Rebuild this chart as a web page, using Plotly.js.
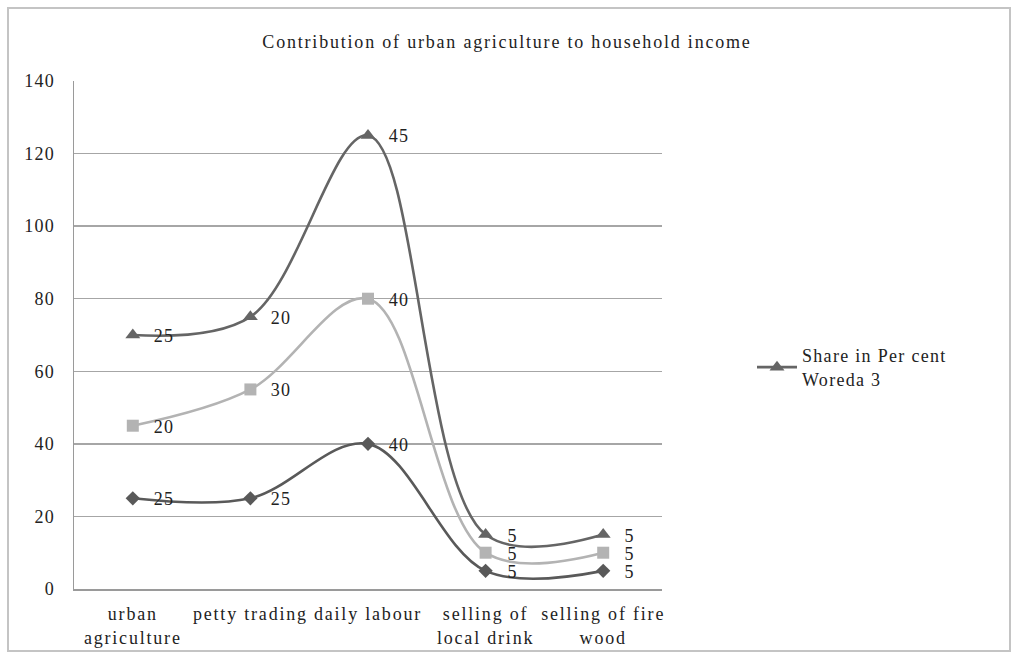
<!DOCTYPE html>
<html>
<head>
<meta charset="utf-8">
<script src="https://cdn.plot.ly/plotly-3.0.1.min.js"></script>
<style>
  html, body { margin: 0; padding: 0; background: #fff; }
  #chart { width: 1014px; height: 658px; }
  /* wide-set serif lettering */
  #chart .gtitle { letter-spacing: 1.8px; }
  #chart .xtick text { letter-spacing: 1.8px; }
  #chart .ytick text { letter-spacing: 1.2px; }
  #chart .legendtext { letter-spacing: 1.3px; }
  #chart .legend .scrollbox { clip-path: none !important; }
  #chart .annotation-text { letter-spacing: 1.2px; }
</style>
</head>
<body>
<div id="chart"></div>
<script>
// Income sources (x categories)
const categories = [
  "urban<br>agriculture",
  "petty trading",
  "daily labour",
  "selling of<br>local drink",
  "selling of fire<br>wood"
];

// Share of each series per income source (stacked on the chart)
const seriesDiamond = [25, 25, 40, 5, 5];
const seriesSquare = [20, 30, 40, 5, 5];
const seriesTriangle = [25, 20, 45, 5, 5];

const legendLabel = "Share in Per cent<br>Woreda 3";
const yTicks = [0, 20, 40, 60, 80, 100, 120, 140];

// Running totals for the stacked lines
function addArrays(a, b) { return a.map((v, i) => v + b[i]); }
const stackDiamond = seriesDiamond.slice();
const stackSquare = addArrays(stackDiamond, seriesSquare);
const stackTriangle = addArrays(stackSquare, seriesTriangle);

const serif = "Liberation Serif, Times New Roman, serif";
const ink = "#222222";

function makeTrace(y, color, symbol, msize, show) {
  return {
    x: categories,
    y: y,
    type: "scatter",
    mode: "lines+markers",
    line: { color: color, width: 2.6, shape: "spline", smoothing: 1 },
    marker: { color: color, symbol: symbol, size: msize },
    name: legendLabel,
    showlegend: show,
    cliponaxis: false,
    hoverinfo: "x+y"
  };
}

const traces = [
  makeTrace(stackDiamond, "#595959", "diamond", 11, false),
  makeTrace(stackSquare, "#b3b3b3", "square", 12, false),
  makeTrace(stackTriangle, "#656565", "triangle-up", 13, true)
];

// Value labels to the right of each point
function labelsFor(stack, values) {
  return values.map((v, i) => ({
    x: categories[i],
    y: stack[i],
    text: String(v),
    showarrow: false,
    xanchor: "left",
    yanchor: "middle",
    xshift: 20,
    yshift: -1,
    font: { family: serif, size: 18, color: ink }
  }));
}

const annotations = [].concat(
  labelsFor(stackDiamond, seriesDiamond),
  labelsFor(stackSquare, seriesSquare),
  labelsFor(stackTriangle, seriesTriangle)
);

const layout = {
  width: 1014,
  height: 658,
  margin: { l: 74, r: 352, t: 81, b: 69 },
  paper_bgcolor: "#ffffff",
  plot_bgcolor: "#ffffff",
  font: { family: serif, size: 18, color: ink },
  title: {
    text: "Contribution of urban agriculture to household income",
    font: { family: serif, size: 18, color: ink },
    x: 0.5, xref: "container", xanchor: "center",
    y: 1 - 42 / 658, yanchor: "middle"
  },
  xaxis: {
    type: "category",
    range: [-0.5, 4.5],
    showgrid: false,
    zeroline: false,
    showline: true,
    linecolor: "#9a9a9a",
    linewidth: 1.5,
    ticks: "",
    ticklabelstandoff: 8,
    tickfont: { family: serif, size: 18, color: ink },
    fixedrange: true
  },
  yaxis: {
    range: [0, 140],
    tickvals: yTicks,
    ticktext: yTicks.map(String),
    showgrid: true,
    gridcolor: "#a6a6a6",
    gridwidth: 1.5,
    zeroline: false,
    showline: true,
    linecolor: "#9a9a9a",
    linewidth: 1.5,
    ticks: "",
    ticklabelstandoff: 14,
    tickfont: { family: serif, size: 18, color: ink },
    fixedrange: true
  },
  legend: {
    x: (752 - 74) / 588,
    y: 1 - (374 - 81) / 520,
    xanchor: "left",
    yanchor: "middle",
    bgcolor: "rgba(0,0,0,0)",
    font: { family: serif, size: 18, color: ink },
    itemwidth: 40
  },
  annotations: annotations,
  shapes: [
    {
      type: "rect", xref: "paper", yref: "paper",
      x0: -66 / 588, x1: 936 / 588,
      y0: -(651 - 589) / 508, y1: 1 + (81 - 8) / 508,
      line: { color: "#c4c4c4", width: 2 },
      fillcolor: "rgba(0,0,0,0)", layer: "below"
    }
  ],
  showlegend: true
};

Plotly.newPlot("chart", traces, layout, { displayModeBar: false, staticPlot: true });
</script>
</body>
</html>
